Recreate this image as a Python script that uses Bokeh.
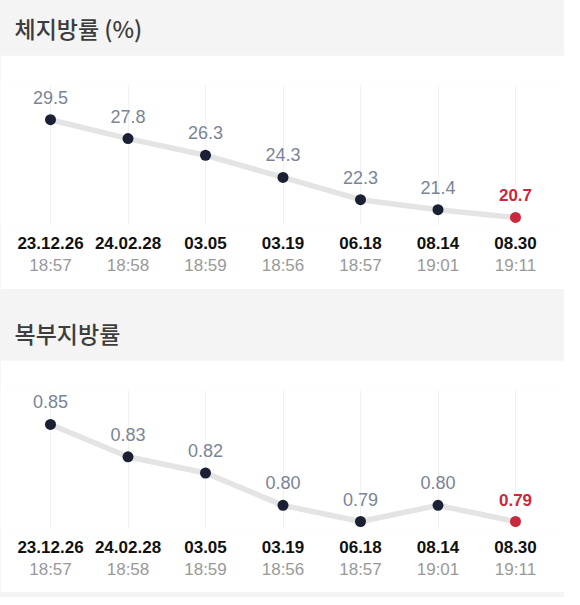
from bokeh.plotting import figure
from bokeh.models import (ColumnDataSource, Range1d, FixedTicker, LinearAxis, Label, Spacer)
from bokeh.layouts import column
from bokeh.core.properties import value
from bokeh.embed import file_html
from bokeh.resources import INLINE

# ---- data ----
dates = ["23.12.26", "24.02.28", "03.05", "03.19", "06.18", "08.14", "08.30"]
times = ["18:57", "18:58", "18:59", "18:56", "18:57", "19:01", "19:11"]
body_fat = [29.5, 27.8, 26.3, 24.3, 22.3, 21.4, 20.7]
abdominal_fat = [0.85, 0.83, 0.82, 0.80, 0.79, 0.80, 0.79]
titles = ["체지방률 (%)", "복부지방률"]
label_fmt = ["{:.1f}", "{:.2f}"]

W = 564
GRAY = "#f4f4f5"
NUM_FONT = "Liberation Sans"
KR_FONT = "Noto Sans CJK KR Medium"


def header(title, h, ty):
    p = figure(width=W, height=h, output_backend="svg", toolbar_location=None,
               x_range=Range1d(0, 1), y_range=Range1d(0, 1),
               min_border=0, outline_line_color=None,
               background_fill_color=GRAY, border_fill_color=GRAY)
    p.axis.visible = False
    p.grid.visible = False
    p.add_layout(Label(x=14, y=h - ty, x_units="screen", y_units="screen",
                       text=title, text_font=KR_FONT, text_font_size="23px",
                       text_color="#3d3d3d", text_baseline="middle"))
    return p


def chart(vals, fmt, h, bottom):
    n = len(vals)
    xs = list(range(n))
    lo, hi = min(vals), max(vals)
    span = hi - lo
    yr = Range1d(lo - 0.072 * span, hi + 0.35 * span)
    xr = Range1d(-50 / 77.5, (W - 50) / 77.5)
    p = figure(width=W, height=h, output_backend="svg", toolbar_location=None,
               x_range=xr, y_range=yr, min_border_left=0, min_border_right=0,
               min_border_top=30, min_border_bottom=0,
               outline_line_color=None, background_fill_color="white",
               border_fill_color="white", x_axis_location=None, y_axis_location=None)
    p.ygrid.visible = False
    p.xgrid.ticker = FixedTicker(ticks=xs)
    p.xgrid.grid_line_color = "#f0f1f3"
    p.xgrid.grid_line_width = 1

    labels = [fmt.format(v) for v in vals]
    colors = ["#1c2034"] * (n - 1) + ["#c9283d"]
    lcolors = ["#7a8496"] * (n - 1) + ["#c9283d"]
    styles = ["normal"] * (n - 1) + ["bold"]
    sizes = ["18px"] * (n - 1) + ["17px"]
    src = ColumnDataSource(dict(x=xs, y=vals, lab=labels, c=colors, lc=lcolors,
                                st=styles, sz=sizes))
    p.line("x", "y", source=src, line_color="#e4e4e4", line_width=5.5,
           line_join="round", line_cap="round")
    p.scatter("x", "y", source=src, size=11, fill_color="c", line_color=None)
    p.text("x", "y", text="lab", source=src, text_color="lc", text_font=value(NUM_FONT),
           text_font_size="sz", text_font_style="st", text_align="center",
           text_baseline="bottom", y_offset=-16)

    ax1 = LinearAxis(ticker=FixedTicker(ticks=xs),
                     major_label_overrides={i: d for i, d in enumerate(dates)},
                     axis_line_color=None, major_tick_line_color=None,
                     minor_tick_line_color=None, major_label_standoff=6,
                     major_label_text_font=NUM_FONT, major_label_text_font_size="17px",
                     major_label_text_font_style="bold", major_label_text_color="#111111")
    ax2 = LinearAxis(ticker=FixedTicker(ticks=xs),
                     major_label_overrides={i: t for i, t in enumerate(times)},
                     axis_line_color=None, major_tick_line_color=None,
                     minor_tick_line_color=None, major_label_standoff=-2,
                     major_label_text_font=NUM_FONT, major_label_text_font_size="17px",
                     major_label_text_color="#999999")
    p.add_layout(ax1, "below")
    p.add_layout(ax2, "below")
    p.min_border_bottom = bottom
    return p


h1 = header(titles[0], 55, 27)
c1 = chart(body_fat, label_fmt[0], 234, 65)
h2 = header(titles[1], 71, 43)
c2 = chart(abdominal_fat, label_fmt[1], 232, 64)
foot = Spacer(width=W, height=5, styles={"background-color": GRAY})

layout = column(h1, c1, h2, c2, foot, spacing=0, styles={"background-color": GRAY})
open("out.html", "w").write(file_html(layout, INLINE))
